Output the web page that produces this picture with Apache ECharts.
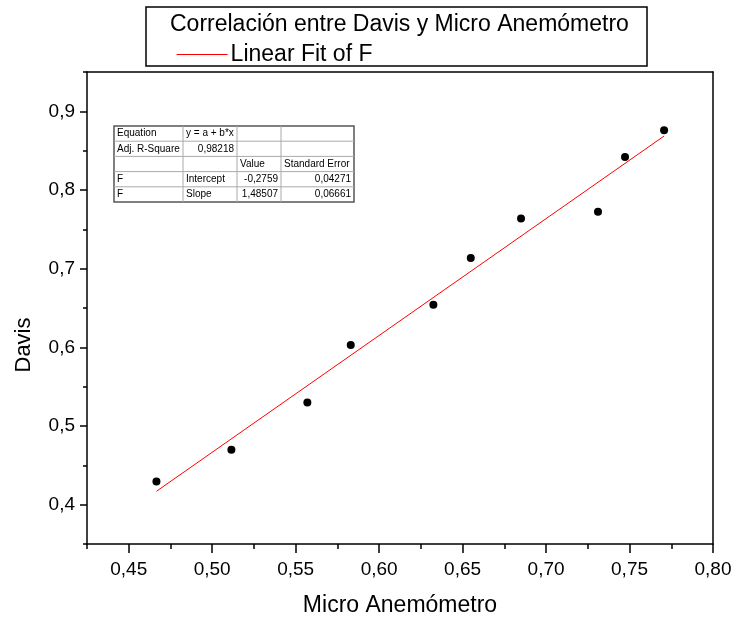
<!DOCTYPE html>
<html>
<head>
<meta charset="utf-8">
<script src="https://cdn.jsdelivr.net/npm/echarts@6/dist/echarts.min.js"></script>
<style>
html,body{margin:0;padding:0;background:#fff;}
#chart{width:734px;height:619px;}
</style>
</head>
<body>
<div id="chart"></div>
<script>
// ---- data ----
const xData = [0.4666, 0.5115, 0.5570, 0.5830, 0.6325, 0.6549, 0.6850, 0.7311, 0.7473, 0.7707];
const yData = [0.4296, 0.4699, 0.5300, 0.6030, 0.6542, 0.7135, 0.7639, 0.7724, 0.8419, 0.8760];
const fitX = [0.4666, 0.7707];
const fitY = [0.4170, 0.8686];
const xTicks = [0.45, 0.50, 0.55, 0.60, 0.65, 0.70, 0.75, 0.80];
const xMinorTicks = [0.425, 0.475, 0.525, 0.575, 0.625, 0.675, 0.725, 0.775];
const yTicks = [0.4, 0.5, 0.6, 0.7, 0.8, 0.9];
const yMinorTicks = [0.35, 0.45, 0.55, 0.65, 0.75, 0.85, 0.95];
const titleText = 'Correlación entre Davis y Micro Anemómetro';
const fitName = 'Linear Fit of F';
const xName = 'Micro Anemómetro';
const yName = 'Davis';
const tableRows = [
  ['Equation', 'y = a + b*x', '', ''],
  ['Adj. R-Square', '0,98218', '', ''],
  ['', '', 'Value', 'Standard Error'],
  ['F', 'Intercept', '-0,2759', '0,04271'],
  ['F', 'Slope', '1,48507', '0,06661']
];

const FONT = 'Liberation Sans, Arial, sans-serif';
const chart = echarts.init(document.getElementById('chart'), null, {renderer: 'canvas'});

// table graphic
const colX = [114, 183, 237, 281, 354];
const rowY = [126, 141.2, 156.4, 171.6, 186.8, 202];
const tableEls = [];
tableEls.push({type: 'rect', shape: {x: colX[0], y: rowY[0], width: colX[4] - colX[0], height: rowY[5] - rowY[0]},
  style: {fill: '#fff', stroke: '#555', lineWidth: 1.5}, z: 10});
for (let i = 1; i < rowY.length - 1; i++) {
  tableEls.push({type: 'line', shape: {x1: colX[0], y1: rowY[i], x2: colX[4], y2: rowY[i]}, style: {stroke: '#aaa', lineWidth: 1}, z: 11});
}
for (let j = 1; j < colX.length - 1; j++) {
  tableEls.push({type: 'line', shape: {x1: colX[j], y1: rowY[0], x2: colX[j], y2: rowY[5]}, style: {stroke: '#aaa', lineWidth: 1}, z: 11});
}
tableRows.forEach((row, i) => {
  row.forEach((txt, j) => {
    if (!txt) return;
    const numeric = /^-?\d/.test(txt);
    tableEls.push({type: 'text', z: 12,
      style: {text: txt, x: numeric ? colX[j + 1] - 3 : colX[j] + 3, y: (rowY[i] + rowY[i + 1]) / 2,
        align: numeric ? 'right' : 'left', verticalAlign: 'middle', fontSize: 10, fontFamily: FONT, fill: '#000'}});
  });
});

const axisLineStyle = {color: '#000', width: 1.5};
const fmtX = v => v.toFixed(2).replace('.', ',');
const fmtY = v => v.toFixed(1).replace('.', ',');

const option = {
  animation: false,
  backgroundColor: '#fff',
  grid: {left: 87, right: 21, top: 72, bottom: 75, containLabel: false, outerBoundsMode: 'none'},
  legend: {
    show: true,
    data: [{name: fitName, itemStyle: {opacity: 0}, lineStyle: {color: '#ff0000', width: 1.2}}],
    left: 171, top: 38, itemWidth: 51, itemHeight: 14, itemGap: 5,
    textStyle: {fontSize: 23, fontFamily: FONT, color: '#000', padding: [0, 0, 0, -2]}, selectedMode: false
  },
  xAxis: [
    {type: 'value', min: 0.425, max: 0.80, position: 'bottom',
      axisLine: {show: true, lineStyle: axisLineStyle},
      axisTick: {show: true, customValues: xTicks, length: 9, lineStyle: axisLineStyle},
      axisLabel: {show: true, customValues: xTicks, formatter: fmtX, fontSize: 19, fontFamily: FONT, color: '#000', margin: 16},
      splitLine: {show: false},
      name: xName, nameLocation: 'middle', nameGap: 50,
      nameTextStyle: {fontSize: 23, fontFamily: FONT, color: '#000'}},
    {type: 'value', min: 0.425, max: 0.80, position: 'bottom',
      axisLine: {show: false},
      axisTick: {show: true, customValues: xMinorTicks, length: 5, lineStyle: axisLineStyle},
      axisLabel: {show: false}, splitLine: {show: false}},
    {type: 'value', min: 0.425, max: 0.80, position: 'top',
      axisLine: {show: true, lineStyle: axisLineStyle},
      axisTick: {show: false}, axisLabel: {show: false}, splitLine: {show: false}}
  ],
  yAxis: [
    {type: 'value', min: 0.35, max: 0.95, position: 'left',
      axisLine: {show: true, lineStyle: axisLineStyle},
      axisTick: {show: true, customValues: yTicks, length: 7, lineStyle: axisLineStyle},
      axisLabel: {show: true, customValues: yTicks, formatter: fmtY, fontSize: 19, fontFamily: FONT, color: '#000', margin: 12},
      splitLine: {show: false}},
    {type: 'value', min: 0.35, max: 0.95, position: 'left',
      axisLine: {show: false},
      axisTick: {show: true, customValues: yMinorTicks, length: 4, lineStyle: axisLineStyle},
      axisLabel: {show: false}, splitLine: {show: false}},
    {type: 'value', min: 0.35, max: 0.95, position: 'right',
      axisLine: {show: true, lineStyle: axisLineStyle},
      axisTick: {show: false}, axisLabel: {show: false}, splitLine: {show: false}}
  ],
  graphic: [
    {type: 'rect', shape: {x: 146, y: 7, width: 501, height: 59}, style: {fill: '#fff', stroke: '#000', lineWidth: 1.5}, z: -1},
    {type: 'text', style: {text: titleText, x: 170, y: 25, verticalAlign: 'middle', fontSize: 23, fontFamily: FONT, fill: '#000'}, z: 5},
    {type: 'text', rotation: Math.PI / 2, x: 24, y: 345,
      style: {text: yName, align: 'center', verticalAlign: 'middle', fontSize: 22, fontFamily: FONT, fill: '#000'}, z: 5},
    {type: 'group', children: tableEls}
  ],
  series: [
    {name: fitName, type: 'line', xAxisIndex: 0, yAxisIndex: 0, symbol: 'none', showSymbol: false,
      lineStyle: {color: '#ff0000', width: 1}, itemStyle: {color: '#ff0000'},
      data: fitX.map((x, i) => [x, fitY[i]]), z: 2},
    {name: 'F', type: 'scatter', xAxisIndex: 0, yAxisIndex: 0, symbol: 'circle', symbolSize: 8,
      itemStyle: {color: '#000', opacity: 1}, data: xData.map((x, i) => [x, yData[i]]), z: 3}
  ]
};
chart.setOption(option);
</script>
</body>
</html>
